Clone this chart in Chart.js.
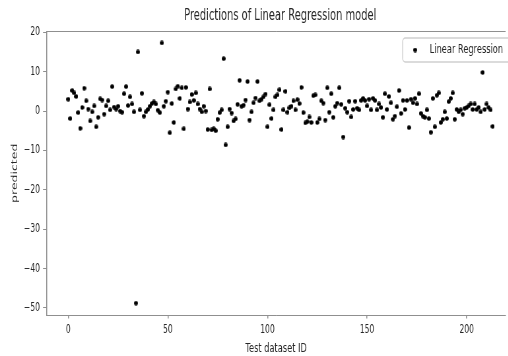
<!DOCTYPE html>
<html>
<head>
<meta charset="utf-8">
<script src="https://cdn.jsdelivr.net/npm/chart.js@4/dist/chart.umd.min.js"></script>
<style>
  html, body { margin: 0; padding: 0; background: #fff; overflow: hidden; }
  /* the reference figure was squeezed horizontally; draw wide, then squeeze the same way */
  #wrap { width: 770px; height: 356px; transform: scaleX(0.66); transform-origin: 0 0; }
  canvas { display: block; }
</style>
</head>
<body>
<div id="wrap"><canvas id="chart" width="770" height="356"></canvas></div>
<script>
// predicted value for each test sample, in ID order
const predicted = [
  3.0, -1.9, 5.2, 4.6, 3.7, -0.4, -4.4, 0.9, 5.8, 2.6,
  0.5, -2.5, -0.2, 1.3, -4.0, -1.6, 3.1, 2.8, -0.8, 1.3,
  2.6, 0.3, 6.2, 1.0, 0.5, 1.2, 0.0, -0.3, 4.4, 6.2,
  1.4, 3.6, 1.8, -0.2,
  -48.8, 15.0, 0.3, 4.5, -1.3, -0.2, 0.4, 1.2, 1.9, 2.3,
  1.8, 0.2, -0.4, 17.3, 1.2, 2.5, 4.8, -5.5, 1.9, -2.9,
  5.6, 6.3, 3.2, 5.9, -4.5, 6.0, 0.5, 2.3, 4.2, 2.7,
  4.6, 1.8, 0.5, -0.2, 1.2, 0.0, -4.7, 5.6, -4.8, -4.5,
  -5.0, -2.1, -0.4, 0.3,
  13.3, -8.6, -4.0, 0.5, -0.5, -2.5, -2.0, 1.7, 7.8, 1.2,
  1.5, 2.8, 7.5, -2.3, -0.2, 2.1, 3.3, 7.5, 2.6, 3.0,
  3.6, 4.3, -4.0, 1.6, -1.9, 0.3, 3.6, 4.1, 5.4, -4.7,
  0.3, 5.0, -0.3, 0.8, 1.2, 2.6, 0.3, 2.9, 1.9, 6.0,
  -0.4, -3.0, -2.7, -1.5, -2.9, 3.9, 4.1, -2.9, -2.0, 2.6,
  2.0, -2.3, 5.9, -0.3, 4.4, -1.6, 1.2, 2.0, 5.9, 1.7,
  -6.6, 0.7, -0.3, 2.5, -1.5, 0.4, 2.5, 0.7,
  0.3, 2.7, 3.2, 2.7, 1.3, 3.0, 0.3, 3.2, 2.7, 0.3,
  1.8, 0.9, -1.6, 4.4, 0.4, 3.7, 2.1, -2.1, -1.3, 1.1,
  5.2, -0.6, 2.7, 0.4, 2.7, -4.2, 3.0, 2.1, 3.2, 1.8,
  4.4, -0.6, -1.3, -1.6, 0.3,
  -1.9, -5.4, 3.2, -4.0, 4.0, 4.6, -2.9, -2.1, -0.2, -1.9,
  2.4, 3.2, 4.6, -2.1, 0.4, -0.2, 0.3, -0.8, 0.7, 0.9,
  1.3, 1.8, 0.4, 1.8, 0.4, 0.9, -0.2,
  9.8, 0.4, 1.8, 0.9, 0.3, -3.9
];
const xTicks = [0, 50, 100, 150, 200];
const yTicks = [20, 10, 0, -10, -20, -30, -40, -50];

const FONT = "'DejaVu Sans', sans-serif";
const AXIS_GRAY = '#8f8f8f';
const TEXT = '#262626';

const points = predicted.map((v, i) => ({ x: i, y: v }));

// dot drawn wider than tall so it comes out round after the squeeze
const dot = document.createElement('canvas');
dot.width = 6;
dot.height = 5;
(function () {
  const c = dot.getContext('2d');
  c.fillStyle = '#000';
  c.beginPath();
  c.ellipse(3, 2.5, 2.9, 2.2, 0, 0, Math.PI * 2);
  c.fill();
})();

// title, top spine and the legend box drawn over the plot like matplotlib does
const overlay = {
  id: 'overlay',
  afterDraw(chart) {
    const { ctx, chartArea, scales } = chart;
    const { left, top, right } = chartArea;
    ctx.save();

    ctx.strokeStyle = AXIS_GRAY;
    ctx.lineWidth = 1;
    ctx.beginPath();
    ctx.moveTo(left, top);
    ctx.lineTo(right, top);
    ctx.stroke();

    // centred over the full axes, whose right side is cut off in the picture
    const axesRight = scales.x.getPixelForValue(223.7);
    ctx.fillStyle = TEXT;
    ctx.font = '15px ' + FONT;
    ctx.textAlign = 'center';
    ctx.textBaseline = 'middle';
    ctx.fillText('Predictions of Linear Regression model', (left + axesRight) / 2, top - 15);

    const bx = right - 156, by = top + 6.5, bh = 24;
    ctx.fillStyle = 'rgba(255,255,255,0.85)';
    ctx.strokeStyle = '#d0d0d0';
    ctx.lineWidth = 1.4;
    ctx.beginPath();
    ctx.roundRect(bx, by, 180, bh, 4);
    ctx.fill();
    ctx.stroke();
    ctx.drawImage(dot, bx + 16, by + bh / 2 - 2.5);
    ctx.fillStyle = TEXT;
    ctx.font = '12.5px ' + FONT;
    ctx.textAlign = 'left';
    ctx.fillText(chart.data.datasets[0].label, bx + 41, by + bh / 2);

    ctx.restore();
  }
};

new Chart(document.getElementById('chart').getContext('2d'), {
  type: 'scatter',
  data: {
    datasets: [{
      label: 'Linear Regression',
      data: points,
      pointStyle: dot,
      pointRadius: 3,
      pointHoverRadius: 3
    }]
  },
  options: {
    responsive: false,
    animation: false,
    devicePixelRatio: 1,
    layout: { padding: { top: 31.5, right: 0, bottom: 0, left: 0 } },
    plugins: {
      legend: { display: false },
      title: { display: false },
      tooltip: { enabled: false }
    },
    scales: {
      x: {
        type: 'linear',
        min: -10.9,
        max: 219.5,
        afterFit: s => { s.height = 41; },
        afterBuildTicks: s => { s.ticks = xTicks.map(v => ({ value: v })); },
        border: { display: true, color: AXIS_GRAY, width: 1 },
        grid: { display: true, drawOnChartArea: false, drawTicks: true, tickLength: 3.5, color: AXIS_GRAY, lineWidth: 1.5 },
        ticks: { color: TEXT, font: { family: FONT, size: 11.5 }, padding: 5, maxRotation: 0 },
        title: {
          display: true,
          text: 'Test dataset ID',
          color: TEXT,
          font: { family: FONT, size: 12.5 },
          padding: { top: 0, bottom: 0 }
        }
      },
      y: {
        min: -51.8,
        max: 20.2,
        afterFit: s => { s.width = 70.5; },
        afterBuildTicks: s => { s.ticks = yTicks.map(v => ({ value: v })); },
        border: { display: true, color: AXIS_GRAY, width: 1.5 },
        grid: { display: true, drawOnChartArea: false, drawTicks: true, tickLength: 5.3, color: AXIS_GRAY, lineWidth: 1 },
        ticks: {
          color: TEXT,
          font: { family: FONT, size: 11.5 },
          padding: 4.6,
          callback: v => (v < 0 ? '\u2212' + Math.abs(v) : String(v))
        },
        title: {
          display: true,
          text: 'predicted',
          color: TEXT,
          font: { family: FONT, size: 12.5 },
          padding: { top: 15.2, bottom: 0 }
        }
      }
    }
  },
  plugins: [overlay]
});
</script>
</body>
</html>
